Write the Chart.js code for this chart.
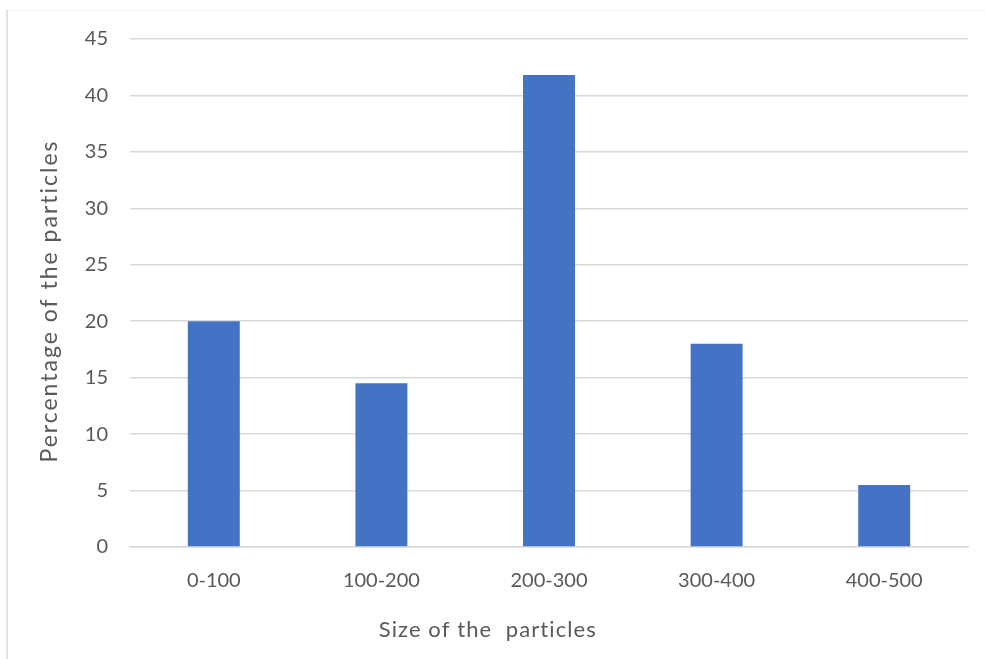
<!DOCTYPE html>
<html>
<head>
<meta charset="utf-8">
<script src="https://cdn.jsdelivr.net/npm/chart.js@4"></script>
<style>
  html, body { margin: 0; padding: 0; background: #ffffff; }
  #wrap { width: 985px; height: 659px; position: relative; }
</style>
</head>
<body>
<div id="wrap"><canvas id="c" width="985" height="659"></canvas></div>
<script>
// Particle size distribution
const sizeRanges = ['0-100', '100-200', '200-300', '300-400', '400-500'];
const percentages = [20, 14.5, 41.8, 18, 5.5];
const yTicks = [0, 5, 10, 15, 20, 25, 30, 35, 40, 45];
const xTitle = 'Size of the  particles';
const yTitle = 'Percentage of the particles';

const FONT = 'Lato, "Open Sans", sans-serif';
const TEXT = '#595959';
const GRID = '#d9d9d9';

// thin frame line along the left and top edge of the chart area
const framePlugin = {
  id: 'frame',
  beforeDraw(chart) {
    const ctx = chart.ctx;
    ctx.save();
    ctx.strokeStyle = '#f2f2f2';
    ctx.lineWidth = 1;
    ctx.beginPath();
    ctx.moveTo(7, 10.5);
    ctx.lineTo(chart.width, 10.5);
    ctx.stroke();
    ctx.strokeStyle = GRID;
    ctx.lineWidth = 1.5;
    ctx.beginPath();
    ctx.moveTo(7, 10);
    ctx.lineTo(7, chart.height);
    ctx.stroke();
    ctx.restore();
  }
};

// axis titles with loose letter spacing
const axisTitlePlugin = {
  id: 'axisTitles',
  afterDraw(chart) {
    const ctx = chart.ctx;
    const area = chart.chartArea;
    ctx.save();
    ctx.fillStyle = TEXT;
    ctx.textAlign = 'center';
    ctx.textBaseline = 'middle';

    ctx.font = '22px ' + FONT;
    ctx.letterSpacing = '1.1px';
    ctx.fillText(xTitle, area.left + area.width * 0.427, 630);

    ctx.font = '23px ' + FONT;
    ctx.letterSpacing = '2px';
    ctx.translate(50, (area.top + area.bottom) / 2 + 8);
    ctx.rotate(-Math.PI / 2);
    ctx.fillText(yTitle, 0, 0);
    ctx.restore();
  }
};

new Chart(document.getElementById('c'), {
  type: 'bar',
  data: {
    labels: sizeRanges,
    datasets: [{
      data: percentages,
      backgroundColor: '#4472C4',
      borderWidth: 0,
      categoryPercentage: 1,
      barPercentage: 0.31
    }]
  },
  options: {
    responsive: false,
    animation: false,
    layout: { padding: { left: 0, right: 17, top: 39, bottom: 0 } },
    plugins: { legend: { display: false }, tooltip: { enabled: false } },
    scales: {
      x: {
        grid: { display: false, drawTicks: false },
        border: { display: true, color: GRID, width: 1.5 },
        ticks: { color: TEXT, font: { family: FONT, size: 20 }, padding: 22 },
        afterFit(scale) { scale.height = 112; }
      },
      y: {
        min: 0,
        max: 45,
        afterBuildTicks(scale) { scale.ticks = yTicks.map(v => ({ value: v })); },
        grid: { color: GRID, lineWidth: 1.5, drawTicks: false },
        border: { display: false },
        ticks: { color: TEXT, font: { family: FONT, size: 20 }, padding: 22 },
        afterFit(scale) { scale.width = 130; }
      }
    }
  },
  plugins: [framePlugin, axisTitlePlugin]
});
</script>
</body>
</html>
